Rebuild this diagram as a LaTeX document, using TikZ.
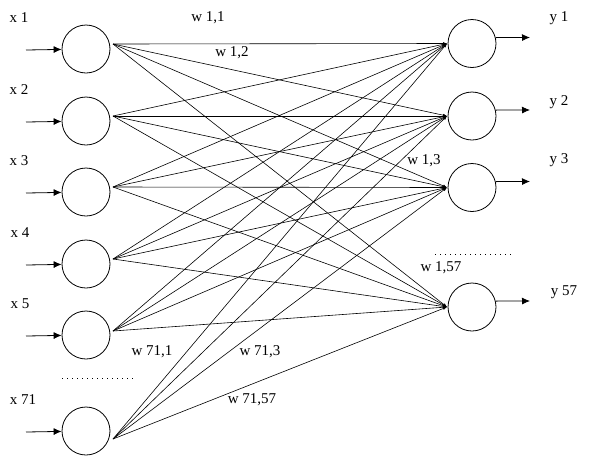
\documentclass[tikz,border=0pt]{standalone}
\usepackage{fontspec}
\setmainfont{Liberation Serif}
\usetikzlibrary{arrows.meta}

\begin{document}
\begin{tikzpicture}[x=1pt, y=-1pt,
  font=\fontsize{15}{18}\selectfont,
  line width=0.8pt,
  neuron/.style={draw, circle, minimum size=48pt, inner sep=0pt},
  lbl/.style={inner sep=0pt},
  wire/.style={line width=0.6pt, -{Latex[length=4pt,width=3pt]}},
  feed/.style={-{Latex[length=8pt,width=7pt]}},
  gap/.style={line width=1pt, dash pattern=on 1pt off 4pt}
]
\useasboundingbox (0,0) rectangle (592,456);

% input layer
\foreach \n/\y/\sy in {1/49/44, 2/121/116, 3/192/187, 4/264/259, 5/335/331, 71/431/439} {
  \node[neuron] (in\n) at (86,\y) {};
  \coordinate (s\n) at (113,\sy);
  \coordinate (a\n) at (26,\y+1);
  \draw[feed] (a\n) -- (in\n);
}

% output layer
\foreach \n/\y in {1/43.5, 2/116, 3/187.5, 57/307} {
  \node[neuron] (out\n) at (472,\y) {};
  \coordinate (e\n) at (447,\y);
  \coordinate (b\n) at (530,\y-6);
  \draw[feed] (out\n.14) -- (b\n);
}

% weights
\foreach \i in {1,2,3,4,5,71}
  \foreach \j in {1,2,3,57}
    \draw[wire] (s\i) -- (e\j);

% labels
\foreach \t/\x/\y [count=\k] in {x 1/19/18, x 2/19/90, x 3/19/161, x 4/20/233,
    x 5/20/304, x 71/23/400, y 1/559/18, y 2/559/102, y 3/559/160, y 57/564/292}
  \node[lbl] (l\k) at (\x,\y) {\t};

\foreach \t/\x/\y [count=\k] in {w 1{,}1/208/18, w 1{,}2/232/53, w 1{,}3/424/161,
    w 1{,}57/441/268, w 71{,}1/152/352, w 71{,}3/260/352, w 71{,}57/252/400}
  \node[lbl] (w\k) at (\x,\y) {\t};

% skipped units
\coordinate (d1) at (435,254);
\coordinate (d2) at (511,254);
\coordinate (d3) at (62,378);
\coordinate (d4) at (136,378);
\draw[gap] (d1) -- (d2);
\draw[gap] (d3) -- (d4);
\end{tikzpicture}
\end{document}
